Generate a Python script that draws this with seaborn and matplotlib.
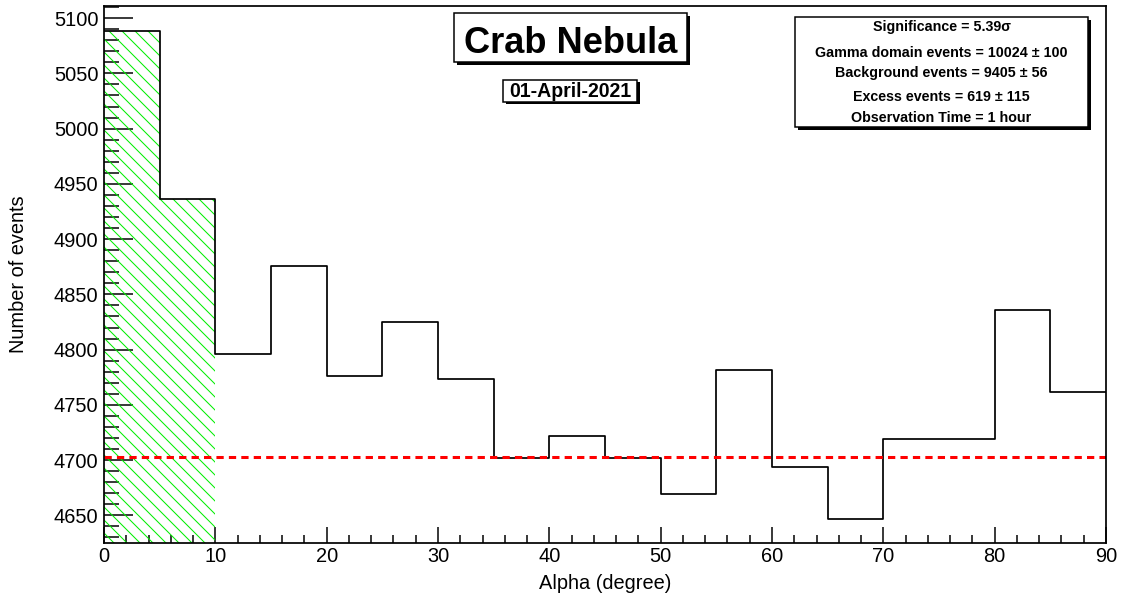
import numpy as np
import pandas as pd
import matplotlib
matplotlib.use("Agg")
import matplotlib.pyplot as plt
import seaborn as sns
from matplotlib.patches import Rectangle
from matplotlib.ticker import MultipleLocator

# ---------------- data ----------------
bin_edges = list(range(0, 95, 5))
counts = [5088, 4936, 4796, 4876, 4776, 4825, 4773, 4702, 4722, 4702,
          4669, 4782, 4694, 4647, 4719, 4719, 4836, 4762]
signal_bins = 2                      # first two bins (alpha < 10) = gamma domain
background_level = 9405 / 2          # per-bin background level

title_text = "Crab Nebula"
date_text = "01-April-2021"
stats_lines = [
    "Significance = 5.39σ",
    "Gamma domain events = 10024 ± 100",
    "Background events = 9405 ± 56",
    "Excess events = 619 ± 115",
    "Observation Time = 1 hour",
]
x_label = "Alpha (degree)"
y_label = "Number of events"
x_limits = (0, 90)
y_limits = (4625, 5111)

# ---------------- style ----------------
DPI = 78
sns.set_style("ticks")
plt.rcParams["font.family"] = ["Liberation Sans", "DejaVu Sans"]
plt.rcParams["hatch.linewidth"] = 0.95
for k in ["text.color", "axes.labelcolor", "xtick.color", "ytick.color", "axes.edgecolor"]:
    plt.rcParams[k] = "black"

centers = [(bin_edges[i] + bin_edges[i + 1]) / 2 for i in range(len(counts))]
df = pd.DataFrame({"alpha": centers, "events": counts})

fig = plt.figure(figsize=(1123.01 / DPI, 601.01 / DPI), dpi=DPI)
W, H = 1123.0, 601.0
ax = fig.add_axes([104 / W, 1 - 543 / H, (1106 - 104) / W, (543 - 6) / H])


def px(x, y):
    return x / W, 1 - y / H


# hatched signal region
sig = df.iloc[:signal_bins]
sns.histplot(data=sig, x="alpha", weights="events", bins=bin_edges[:signal_bins + 1],
             element="step", fill=True, color="#00ee00", facecolor="none",
             edgecolor="#00ee00", hatch="\\\\", linewidth=0, ax=ax, zorder=1)

# full histogram outline
sns.histplot(data=df, x="alpha", weights="events", bins=bin_edges,
             element="step", fill=False, color="black", linewidth=1.6, ax=ax, zorder=3)

# background level
ax.axhline(background_level, color="#ff0000", linewidth=2.8, dashes=(2.4, 1.7), zorder=4)

ax.set_xlim(*x_limits)
ax.set_ylim(*y_limits)

ax.xaxis.set_major_locator(MultipleLocator(10))
ax.xaxis.set_minor_locator(MultipleLocator(2))
ax.yaxis.set_major_locator(MultipleLocator(50))
ax.yaxis.set_minor_locator(MultipleLocator(10))

ax.tick_params(axis="both", which="both", direction="in", top=False, right=False,
               bottom=True, left=True, width=1.4, color="black", labelcolor="black",
               labelsize=18.5)
ax.tick_params(axis="y", which="major", length=26.5, pad=5)
ax.tick_params(axis="y", which="minor", length=13.5)
ax.tick_params(axis="x", which="major", length=14.5, pad=4)
ax.tick_params(axis="x", which="minor", length=7.2)
for s in ax.spines.values():
    s.set_visible(True)
    s.set_linewidth(1.6)
    s.set_color("black")
    s.set_zorder(5)

ax.set_xlabel(x_label, fontsize=18.5, color="black")
ax.set_ylabel(y_label, fontsize=18.5, color="black")
ax.xaxis.set_label_coords(0.5, -(583 - 543) / 537)
ax.xaxis.label.set_va("center")
ax.yaxis.set_label_coords((18 - 104) / 1002, 0.5)
ax.yaxis.label.set_va("center")


def shadow_box(x0, y0, x1, y1, off=3):
    sx0, sy1 = px(x0 + off, y1 + off)
    sx1, sy0 = px(x1 + off, y0 + off)
    fig.add_artist(Rectangle((sx0, sy1), sx1 - sx0, sy0 - sy1, transform=fig.transFigure,
                             facecolor="black", edgecolor="black", linewidth=0, zorder=10))
    bx0, by1 = px(x0, y1)
    bx1, by0 = px(x1, y0)
    fig.add_artist(Rectangle((bx0, by1), bx1 - bx0, by0 - by1, transform=fig.transFigure,
                             facecolor="white", edgecolor="black", linewidth=1.4, zorder=11))


# title box
shadow_box(454, 13, 687, 62)
fig.text(*px(570.5, 53), title_text, ha="center", va="baseline", fontsize=33.5,
         fontweight="bold", color="black", zorder=12)

# date box
shadow_box(503, 80, 637, 102, off=2.5)
fig.text(*px(570, 96.5), date_text, ha="center", va="baseline", fontsize=18,
         fontweight="bold", color="black", zorder=12)

# statistics box
shadow_box(795, 17, 1088, 127, off=3)
for yy, line in zip([30.7, 56.7, 76.7, 100.7, 121.7], stats_lines):
    fig.text(*px(941.5, yy), line, ha="center", va="baseline", fontsize=13.2,
             fontweight="bold", color="black", zorder=12)

fig.savefig("out.png", dpi=DPI)
